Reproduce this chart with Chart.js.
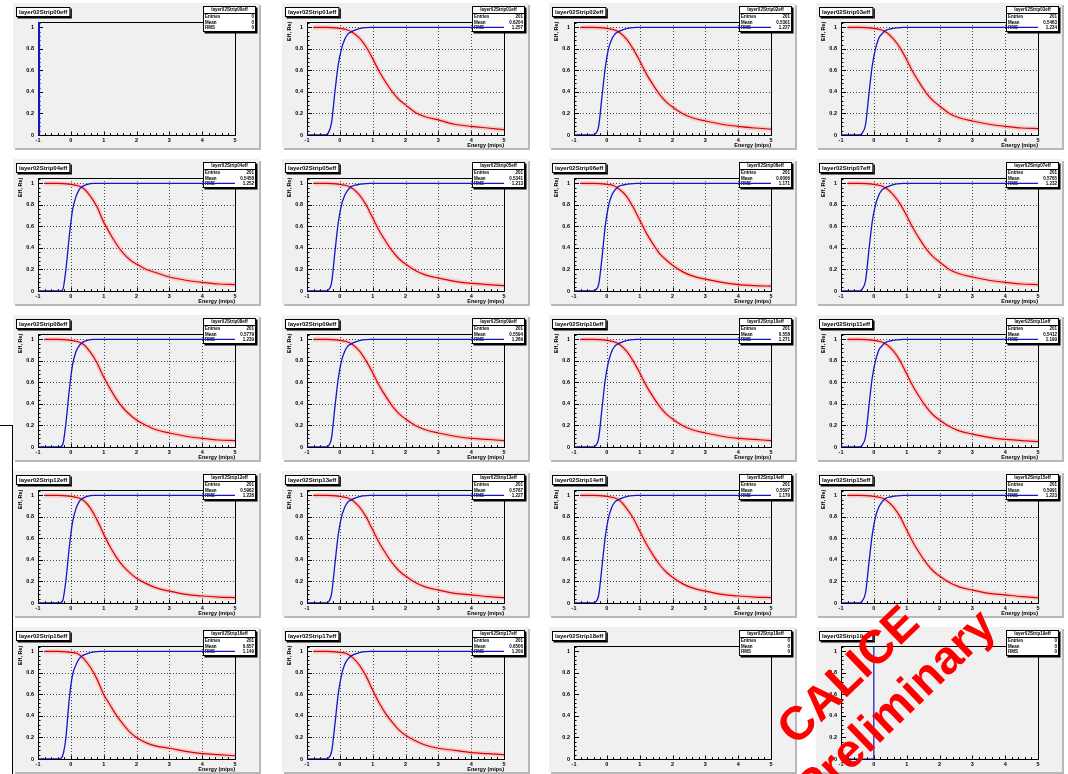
<!DOCTYPE html>
<html>
<head>
<meta charset="utf-8">
<script src="https://cdn.jsdelivr.net/npm/chart.js@4.4.1/dist/chart.umd.min.js"></script>
<style>
  body{margin:0;background:#fff;width:1068px;height:774px;overflow:hidden;position:relative;font-family:"Liberation Sans",Arial,sans-serif}
  .pad{position:absolute;width:246px;height:145px;background:#f0f0f0;box-shadow:2px 2px 0 #b8b8b8}
  .pad canvas{position:absolute;left:0;top:0}
  .edge{position:absolute;left:0;top:425px;width:12px;height:349px;border-top:1px solid #000;border-right:1px solid #000}
  .stamp{position:absolute;color:#f00;font:bold 47px "Liberation Sans",Arial,sans-serif;white-space:nowrap;transform:rotate(-44deg);transform-origin:0 0;line-height:1}
</style>
</head>
<body>
<div class="edge"></div>
<div id="pads"></div>
<div class="stamp" style="left:768px;top:718px">CALICE</div>
<div class="stamp" style="left:786px;top:778px">Preliminary</div>
<script>
// energy grid (mips) for efficiency and rejection curves
const effE = [-1, -0.45, -0.35, -0.25, -0.15, -0.05, 0.05, 0.15, 0.25, 0.35, 0.5, 0.7, 0.9, 5];
const rejE = [-0.8, -0.4, 0, 0.2, 0.4, 0.6, 0.8, 1.0, 1.2, 1.4, 1.6, 1.8, 2.0, 2.3, 2.6, 3.0, 3.5, 4.0, 4.5, 5];
const xTicks = [-1, 0, 1, 2, 3, 4, 5];
const yTicks = [0, 0.2, 0.4, 0.6, 0.8, 1];

// efficiency (blue)
const eff01 = [0,0,0.02,0.12,0.40,0.65,0.80,0.89,0.94,0.96,0.98,0.995,1,1];
const eff02 = [0,0,0.01,0.08,0.35,0.62,0.80,0.89,0.94,0.96,0.98,0.995,1,1];
const eff03 = [0,0,0.02,0.10,0.38,0.64,0.80,0.90,0.94,0.97,0.985,0.995,1,1];
const eff04 = [0,0,0,0.01,0.20,0.50,0.75,0.87,0.94,0.97,0.99,1,1,1];
const eff05 = [0,0,0.01,0.08,0.36,0.63,0.80,0.89,0.94,0.97,0.985,0.995,1,1];
const eff06 = [0,0,0.01,0.06,0.30,0.60,0.79,0.89,0.94,0.97,0.985,0.995,1,1];
const eff07 = [0,0,0.02,0.10,0.38,0.64,0.80,0.89,0.94,0.96,0.98,0.995,1,1];
const eff08 = [0,0,0,0.02,0.22,0.52,0.76,0.88,0.94,0.97,0.99,1,1,1];
const eff09 = [0,0,0.01,0.09,0.37,0.63,0.80,0.89,0.94,0.96,0.98,0.995,1,1];
const eff10 = [0,0,0.01,0.08,0.35,0.62,0.79,0.89,0.94,0.96,0.98,0.995,1,1];
const eff11 = [0,0,0.02,0.10,0.38,0.64,0.80,0.90,0.94,0.97,0.985,0.995,1,1];
const eff12 = [0,0,0,0.02,0.21,0.51,0.75,0.87,0.94,0.97,0.99,1,1,1];
const eff13 = [0,0,0.01,0.09,0.36,0.63,0.80,0.89,0.94,0.96,0.98,0.995,1,1];
const eff14 = [0,0,0.01,0.07,0.33,0.61,0.79,0.89,0.94,0.96,0.98,0.995,1,1];
const eff15 = [0,0,0.02,0.10,0.37,0.63,0.80,0.89,0.94,0.97,0.985,0.995,1,1];
const eff16 = [0,0,0,0.03,0.20,0.55,0.78,0.87,0.93,0.96,0.98,0.995,1,1];
const eff17 = [0,0,0.01,0.07,0.32,0.60,0.78,0.88,0.93,0.96,0.98,0.995,1,1];

// rejection (red)
const rej01 = [1,1,0.99,0.98,0.95,0.90,0.82,0.71,0.59,0.49,0.40,0.33,0.28,0.21,0.17,0.14,0.10,0.08,0.065,0.05];
const rej02 = [1,1,0.99,0.98,0.95,0.89,0.80,0.69,0.57,0.47,0.38,0.31,0.26,0.20,0.16,0.13,0.10,0.08,0.065,0.055];
const rej03 = [1,1,0.99,0.98,0.95,0.89,0.81,0.70,0.58,0.48,0.39,0.32,0.27,0.20,0.16,0.13,0.10,0.08,0.065,0.06];
const rej04 = [1,1,0.99,0.98,0.95,0.88,0.78,0.64,0.53,0.43,0.35,0.29,0.25,0.20,0.17,0.13,0.10,0.08,0.065,0.06];
const rej05 = [1,1,0.99,0.98,0.95,0.89,0.80,0.68,0.56,0.46,0.37,0.30,0.25,0.19,0.15,0.12,0.09,0.07,0.06,0.05];
const rej06 = [1,1,0.99,0.98,0.94,0.88,0.78,0.66,0.54,0.44,0.35,0.29,0.24,0.18,0.14,0.11,0.08,0.06,0.05,0.045];
const rej07 = [1,1,0.99,0.98,0.95,0.89,0.81,0.70,0.58,0.48,0.39,0.32,0.27,0.20,0.16,0.13,0.10,0.08,0.065,0.06];
const rej08 = [1,1,0.99,0.98,0.95,0.88,0.78,0.65,0.54,0.44,0.36,0.30,0.25,0.20,0.16,0.13,0.10,0.08,0.065,0.06];
const rej09 = [1,1,0.99,0.98,0.95,0.89,0.80,0.69,0.57,0.47,0.38,0.31,0.26,0.20,0.16,0.13,0.10,0.08,0.07,0.06];
const rej10 = [1,1,0.99,0.98,0.95,0.89,0.80,0.69,0.57,0.47,0.38,0.31,0.26,0.20,0.16,0.13,0.10,0.08,0.07,0.06];
const rej11 = [1,1,0.99,0.98,0.95,0.89,0.80,0.68,0.56,0.46,0.37,0.30,0.25,0.19,0.15,0.12,0.09,0.07,0.06,0.05];
const rej12 = [1,1,0.99,0.98,0.95,0.88,0.77,0.64,0.52,0.42,0.34,0.28,0.23,0.18,0.14,0.11,0.08,0.065,0.055,0.05];
const rej13 = [1,1,0.99,0.98,0.95,0.89,0.80,0.68,0.56,0.46,0.37,0.30,0.25,0.19,0.15,0.12,0.09,0.075,0.06,0.05];
const rej14 = [1,1,0.99,0.98,0.95,0.88,0.79,0.67,0.55,0.45,0.36,0.29,0.24,0.18,0.14,0.11,0.08,0.065,0.055,0.05];
const rej15 = [1,1,0.99,0.98,0.95,0.89,0.80,0.68,0.56,0.46,0.37,0.30,0.25,0.19,0.15,0.12,0.09,0.075,0.06,0.05];
const rej16 = [1,1,0.99,0.98,0.93,0.85,0.74,0.60,0.50,0.40,0.32,0.25,0.20,0.15,0.12,0.10,0.07,0.05,0.04,0.03];
const rej17 = [1,1,0.99,0.98,0.94,0.87,0.77,0.64,0.52,0.42,0.34,0.27,0.22,0.17,0.13,0.10,0.08,0.06,0.05,0.04];

// strips without signal: stray blue bins only
const eff00X = [-0.97, -0.97], eff00 = [0, 1.1];
const eff19X = [-1, 0, 0], eff19 = [0, 0, 1.1];

// stat box values
const entries = [0,201,201,201,201,201,201,201,201,201,201,201,201,201,201,201,201,201,0,0];
const means = [0,0.6204,0.5301,0.5463,0.5458,0.5341,0.6006,0.5765,0.5779,0.5594,0.558,0.5412,0.5962,0.5767,0.5597,0.5991,0.657,0.6506,0,0];
const rmss = [0,1.257,1.227,1.234,1.252,1.213,1.171,1.232,1.239,1.269,1.271,1.199,1.228,1.227,1.179,1.223,1.149,1.209,0,0];

const effCurves = [null,eff01,eff02,eff03,eff04,eff05,eff06,eff07,eff08,eff09,eff10,eff11,eff12,eff13,eff14,eff15,eff16,eff17,null,null];
const rejCurves = [null,rej01,rej02,rej03,rej04,rej05,rej06,rej07,rej08,rej09,rej10,rej11,rej12,rej13,rej14,rej15,rej16,rej17,null,null];

const padLeft = [13, 282, 549, 816];
const padTop = [3, 159, 315, 471, 627];
const W = 246, H = 145;
const pts = (xs, ys) => xs.map((x,i)=>({x, y: ys[i]}));
const FONT = '"Liberation Sans", Arial, sans-serif';

// ROOT-like pad decorations: dotted grid, frame, inward ticks, labels, titles, stat box
const rootPad = {
  id:'rootPad',
  beforeDatasetsDraw(chart, args, o){
    const {ctx, chartArea:a, scales:{x, y}} = chart;
    ctx.save();
    if(o.grid){
      ctx.strokeStyle = '#222'; ctx.lineWidth = 0.8; ctx.setLineDash([1,2]);
      ctx.beginPath();
      [0,1,2,3,4].forEach(v=>{ const px = Math.round(x.getPixelForValue(v))+0.5; ctx.moveTo(px,a.top); ctx.lineTo(px,a.bottom); });
      [0.2,0.4,0.6,0.8,1].forEach(v=>{ const py = Math.round(y.getPixelForValue(v))+0.5; ctx.moveTo(a.left,py); ctx.lineTo(a.right,py); });
      ctx.stroke(); ctx.setLineDash([]);
    }
    // frame
    ctx.strokeStyle = '#000'; ctx.lineWidth = 1;
    ctx.strokeRect(Math.round(a.left)+0.5, Math.round(a.top)+0.5, Math.round(a.right-a.left), Math.round(a.bottom-a.top));
    // inward ticks
    ctx.beginPath();
    for(let i=0;i<=30;i++){
      const px = Math.round(x.getPixelForValue(-1 + i*0.2))+0.5, len = i%5===0 ? 3.5 : 1.8;
      ctx.moveTo(px, a.bottom); ctx.lineTo(px, a.bottom-len);
    }
    for(let i=0;i<=26;i++){
      const py = Math.round(y.getPixelForValue(i*0.04))+0.5, len = i%5===0 ? 5 : 2.5;
      ctx.moveTo(a.left, py); ctx.lineTo(a.left+len, py);
    }
    ctx.stroke();
    // tick labels
    ctx.fillStyle = '#000'; ctx.font = `bold 5.5px ${FONT}`;
    ctx.textAlign = 'center'; ctx.textBaseline = 'top';
    xTicks.forEach(v=> ctx.fillText(String(v), x.getPixelForValue(v), a.bottom + 2.5));
    ctx.textAlign = 'right'; ctx.textBaseline = 'middle';
    yTicks.forEach(v=> ctx.fillText(String(v), a.left - 4, y.getPixelForValue(v)));
    // axis titles
    if(o.titles){
      ctx.textAlign = 'right'; ctx.textBaseline = 'alphabetic';
      ctx.fillText('Energy (mips)', a.right, a.bottom + 12);
      ctx.save(); ctx.translate(9, a.top); ctx.rotate(-Math.PI/2);
      ctx.fillText('Eff, Rej', 0, 0); ctx.restore();
    }
    // title box
    ctx.font = `bold 6px ${FONT}`;
    const tw = ctx.measureText(o.name).width + 6;
    ctx.fillStyle = '#000'; ctx.fillRect(4.5, 5.5, tw, 10);
    ctx.fillStyle = '#fff'; ctx.fillRect(3, 4, tw, 10);
    ctx.strokeRect(3.5, 4.5, tw-1, 9);
    ctx.fillStyle = '#000'; ctx.textAlign = 'left'; ctx.textBaseline = 'middle';
    ctx.fillText(o.name, 6, 9.5);
    // stat box
    const sx = W - 56, sy = 3, sw = 53, sh = 26;
    ctx.fillRect(sx+1.5, sy+1.5, sw, sh);
    ctx.fillStyle = '#fff'; ctx.fillRect(sx, sy, sw, sh);
    ctx.strokeRect(sx+0.5, sy+0.5, sw-1, sh-1);
    ctx.beginPath(); ctx.moveTo(sx, sy+7.5); ctx.lineTo(sx+sw, sy+7.5); ctx.stroke();
    ctx.fillStyle = '#000'; ctx.font = `bold 4.5px ${FONT}`;
    ctx.textAlign = 'center'; ctx.fillText(o.name, sx+sw/2, sy+4);
    const rows = [['Entries', String(o.entries)], ['Mean', String(o.mean)], ['RMS', String(o.rms)]];
    rows.forEach((r,i)=>{
      const ry = sy + 11 + i*5.5;
      ctx.textAlign = 'left'; ctx.fillText(r[0], sx+2, ry);
      ctx.textAlign = 'right'; ctx.fillText(r[1], sx+sw-2, ry);
    });
    ctx.restore();
  }
};

const host = document.getElementById('pads');
for(let s=0;s<20;s++){
  const col = s%4, row = Math.floor(s/4);
  const pad = document.createElement('div');
  pad.className = 'pad';
  pad.style.left = padLeft[col]+'px'; pad.style.top = padTop[row]+'px';
  const cv = document.createElement('canvas');
  cv.width = W; cv.height = H; cv.style.width = W+'px'; cv.style.height = H+'px';
  pad.appendChild(cv); host.appendChild(pad);

  const name = `layer02Strip${String(s).padStart(2,'0')}eff`;
  const datasets = [];
  if(effCurves[s]){
    datasets.push({data:pts(effE, effCurves[s]), borderColor:'#1414c8', borderWidth:1.3, order:0});
    datasets.push({data:pts(rejE, rejCurves[s]), borderColor:'#dc0000', borderWidth:1.2, order:1});
    datasets.push({data:pts(rejE, rejCurves[s]), borderColor:'rgba(255,120,120,0.3)', borderWidth:4.5, order:2});
  } else if(s===0){
    datasets.push({data:pts(eff00X, eff00), borderColor:'#1414c8', borderWidth:2.2, order:0});
  } else if(s===19){
    datasets.push({data:pts(eff19X, eff19), borderColor:'#1414c8', borderWidth:1.2, order:0});
  }

  new Chart(cv, {
    type:'line',
    data:{datasets},
    options:{
      responsive:false, animation:false, events:[], devicePixelRatio:1,
      elements:{point:{radius:0}, line:{tension:0.25, cubicInterpolationMode:'monotone'}},
      layout:{padding:{top:19, right:24, left:0, bottom:0}},
      plugins:{legend:{display:false}, tooltip:{enabled:false},
        rootPad:{name, grid:!!effCurves[s], titles:!!effCurves[s], entries:entries[s], mean:means[s], rms:rmss[s]}},
      scales:{
        x:{type:'linear', min:-1, max:5,
          afterFit:sc=>{ sc.height = 13; },
          ticks:{display:false}, grid:{display:false}, border:{display:false}},
        y:{min:0, max:1.05,
          afterFit:sc=>{ sc.width = 25; },
          ticks:{display:false}, grid:{display:false}, border:{display:false}}
      }
    },
    plugins:[rootPad]
  });
}
</script>
</body>
</html>
